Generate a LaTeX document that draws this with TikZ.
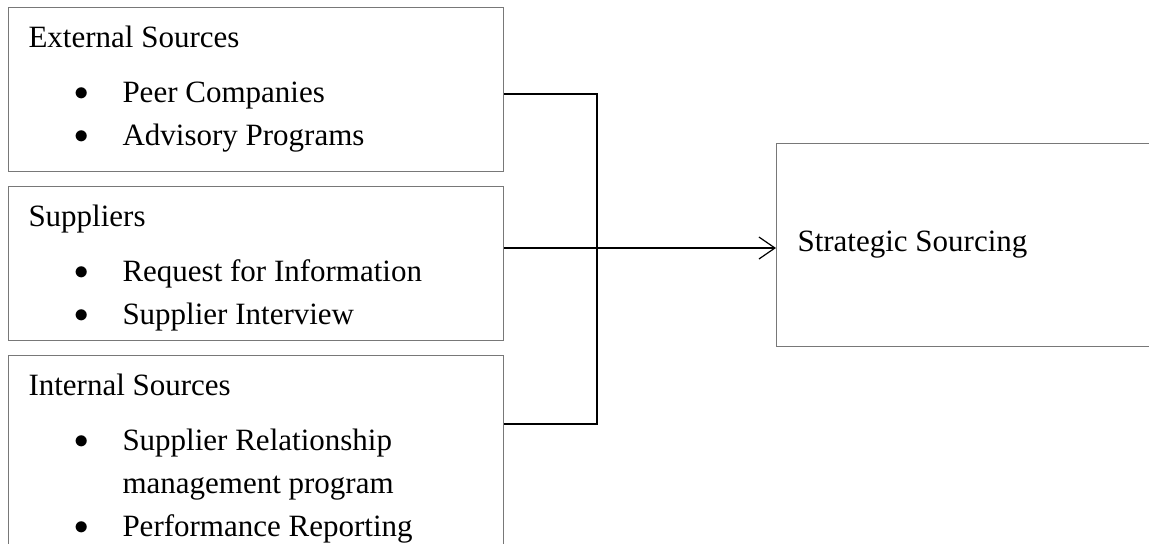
\documentclass[tikz,border=0pt]{standalone}
\usepackage{fontspec}
\setmainfont{Liberation Serif}
\usetikzlibrary{arrows.meta, positioning}
\definecolor{boxgray}{RGB}{120,120,120}
\newcommand{\boxhead}[1]{\rule{0pt}{20pt}#1\par\vspace{6pt}}
\newcommand{\bitem}[1]{\par\noindent\hangindent=47pt\hangafter=1%
  \makebox[47pt][l]{\hspace{23.1pt}\raisebox{1.2pt}{$\bullet$}}#1}

\begin{document}
\begin{tikzpicture}[x=0.5pt, y=-0.5pt,
    srcbox/.style={draw=boxgray, line width=0.5pt, inner xsep=10pt, inner ysep=0pt,
      font=\fontsize{15.5pt}{21.5pt}\selectfont},
    link/.style={line width=1pt, black},
    tip/.style={-{Straight Barb[length=8pt, width=11pt, line width=0.6pt]}}]
  \useasboundingbox (0,0) rectangle (1149,543);
  \clip (0,0) rectangle (1149,543);

  % --- source boxes ---
  \node[srcbox, anchor=north west] (ext) at (8,7) {\parbox[c][82pt][t]{227.5pt}{%
    \boxhead{External Sources}
    \bitem{Peer Companies}
    \bitem{Advisory Programs}}};
  \node[srcbox, below=7pt of ext] (sup) {\parbox[c][77pt][t]{227.5pt}{%
    \boxhead{Suppliers}
    \bitem{Request for Information}
    \bitem{Supplier Interview}}};
  \node[srcbox, below=7pt of sup] (int) {\parbox[c][105pt][t]{227.5pt}{%
    \boxhead{Internal Sources}
    \bitem{Supplier Relationship\newline management program}
    \bitem{Performance Reporting}}};

  % --- target box ---
  \node[srcbox, inner xsep=10.5pt, anchor=north west] (strat) at (776,143)
    {\parbox[c][101.5pt][c]{179pt}{Strategic Sourcing}};

  % connectors
  \coordinate (jn) at (597,248);
  \draw[link] (ext.east |- 0,94) -| (jn);
  \draw[link] (int.east |- 0,424) -| (jn);
  \draw[link, tip] (sup.east |- jn) -- (strat.west |- jn);
\end{tikzpicture}
\end{document}
